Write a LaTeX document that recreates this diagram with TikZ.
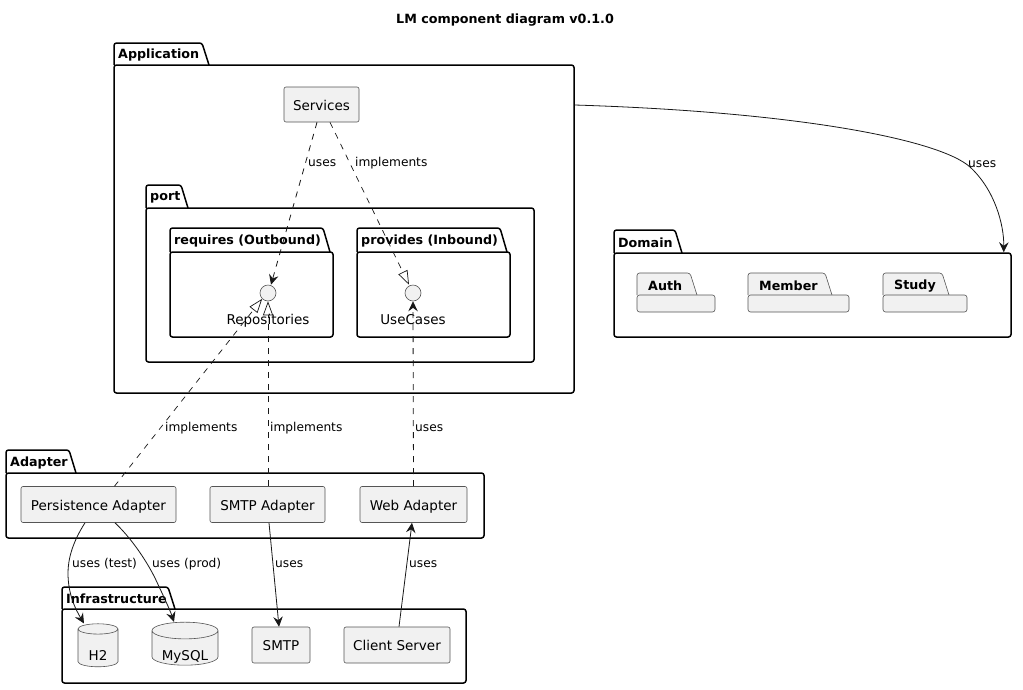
\documentclass[tikz,border=0pt]{standalone}
\usepackage{fontspec}
\setmainfont{DejaVu Sans}
\usepackage{xcolor}
\usetikzlibrary{arrows.meta, shapes.geometric}
\definecolor{boxfill}{HTML}{F1F1F1}
\definecolor{inkline}{HTML}{181818}
\definecolor{boxline}{HTML}{555555}
\tikzset{
  pkgbody/.style={rectangle, rounded corners=2.5pt, line width=1.5pt, draw=black, fill=white, inner sep=0pt},
  pkgtab/.style={rounded corners=2.5pt, line width=1.5pt, draw=black, fill=white},
  pkglabel/.style={font=\fontsize{12.7}{15}\bfseries\selectfont, anchor=west, inner sep=0pt, xshift=4pt, yshift=-1pt},
  subbody/.style={rectangle, rounded corners=2.5pt, line width=0.6pt, draw=boxline, fill=boxfill, inner sep=0pt},
  subtab/.style={rounded corners=2.5pt, line width=0.6pt, draw=boxline, fill=boxfill},
  sublabel/.style={font=\fontsize{12.7}{15}\bfseries\selectfont, anchor=west, inner sep=0pt, xshift=11pt, yshift=-2pt},
  comp/.style={rectangle, rounded corners=2pt, line width=0.6pt, draw=boxline, fill=boxfill, inner sep=0pt,
               font=\fontsize{13.5}{16}\selectfont, text height=11pt, text depth=0pt},
  iface/.style={circle, line width=0.6pt, draw=boxline, fill=boxfill, inner sep=0pt, minimum size=16pt},
  ifacelbl/.style={font=\fontsize{13.5}{16}\selectfont, inner sep=0pt, anchor=base},
  db/.style={cylinder, shape border rotate=90, line width=0.6pt, draw=boxline, fill=boxfill, inner sep=0pt,
             font=\fontsize{13.5}{16}\selectfont},
  edgelbl/.style={font=\fontsize{12.2}{15}\selectfont, anchor=west, inner sep=0pt, yshift=-1pt},
  uses/.style={-{Stealth[length=10pt, width=9.5pt, inset=3.5pt]}, line width=0.8pt, draw=inkline},
  usesd/.style={uses, dash pattern=on 6pt off 6pt},
  impl/.style={-{Triangle[open, length=14pt, width=10pt]}, line width=0.7pt, draw=inkline, dash pattern=on 6pt off 6pt},
}
% style, name, label, left, tab top, tab right, body top, right, bottom
\newcommand{\pkgnode}[9]{
  \draw[#1tab] (#4,#7) -- (#4,#5) -- (#6,#5) -- ({#6+7},#7);
  \node[#1body, minimum width={(#8-#4)*1pt}, minimum height={(#9-#7)*1pt}] (#2) at ({(#4+#8)/2},{(#7+#9)/2}) {};
  \node[#1label] (#2Lbl) at (#4,{(#5+#7)/2}) {#3};
}
\begin{document}
\begin{tikzpicture}[x=1pt, y=-1pt]
    \useasboundingbox (0,0) rectangle (1023,689);
    \node[font=\fontsize{12.7}{16}\bfseries\selectfont, inner sep=0pt] (title) at (505,20) {LM component diagram v0.1.0};

    \pkgnode{pkg}{application}{Application}{114}{43}{202}{65}{574}{393}
    \node[comp, minimum width=75pt, minimum height=35pt] (services) at (321.5,104.5) {Services};
    \pkgnode{pkg}{port}{port}{146}{185}{181}{208}{534}{362}
    \pkgnode{pkg}{requires}{requires (Outbound)}{170}{228}{323}{252}{333}{337}
    \pkgnode{pkg}{provides}{provides (Inbound)}{357}{228}{500}{252}{510}{337}
    \node[iface] (repositories) at (268,293) {};
    \node[iface] (usecases) at (413,293) {};
    \node[ifacelbl] (repositoriesLbl) at (268,324) {Repositories};
    \node[ifacelbl] (usecasesLbl) at (413,324) {UseCases};

    \pkgnode{pkg}{domain}{Domain}{614}{230}{675}{253}{1011}{337}
    \pkgnode{sub}{auth}{Auth}{637}{273}{690}{295}{715}{312}
    \pkgnode{sub}{member}{Member}{748}{273}{825}{295}{849}{312}
    \pkgnode{sub}{study}{Study}{883}{273}{942}{295}{967}{312}

    \pkgnode{pkg}{adapter}{Adapter}{6}{450}{69}{473}{484}{538}
    \node[comp, minimum width=155pt, minimum height=36pt] (persistence) at (98.5,504.5) {Persistence Adapter};
    \node[comp, minimum width=115pt, minimum height=36pt] (smtpadapter) at (267.5,504.5) {SMTP Adapter};
    \node[comp, minimum width=107pt, minimum height=36pt] (webadapter) at (413.5,504.5) {Web Adapter};

    \pkgnode{pkg}{infra}{Infrastructure}{62}{587}{168}{609}{466}{683}
    \node[db, aspect=0.55, minimum width=40pt, minimum height=43pt] (h2) at (98,648) {\raisebox{-12pt}[0pt][0pt]{H2}};
    \node[db, aspect=0.36, minimum width=66pt, minimum height=43pt] (mysql) at (185,648) {\raisebox{-12pt}[0pt][0pt]{MySQL}};
    \node[comp, minimum width=58pt, minimum height=36pt] (smtp) at (281,645) {SMTP};
    \node[comp, minimum width=106pt, minimum height=36pt] (client) at (397,645) {Client Server};

    \draw[usesd] ([xshift=-4.5pt]services.south) -- ([xshift=3pt]repositories.north);
    \draw[impl] ([xshift=8.5pt]services.south) -- ([xshift=-4pt]usecases.north);
    \draw[impl] ([xshift=16pt]persistence.north) -- (repositories.south west);
    \draw[impl] ([xshift=0.5pt]smtpadapter.north) -- (repositories.south);
    \draw[usesd] (webadapter.north) -- (usecases.south);
    \draw[uses] (application.east |- 0,105) .. controls (800,112) and (940,140) .. (970,167)
                .. controls (995,190) and (1004,225) .. ([xshift=-8pt]domain.north east);
    \draw[uses] ([xshift=-13.5pt]persistence.south) .. controls (72,543) and (68,560) .. (68,573)
                .. controls (68,595) and (76,610) .. ([xshift=-14pt]h2.north);
    \draw[uses] ([xshift=16.5pt]persistence.south) .. controls (130,537) and (145,558) .. (155,578)
                .. controls (163,595) and (170,610) .. ([xshift=-11pt]mysql.north);
    \draw[uses] ([xshift=1.5pt]smtpadapter.south) -- ([xshift=-2pt]smtp.north);
    \draw[uses] ([xshift=2pt]client.north) -- ([xshift=-1.5pt]webadapter.south);

    \node[edgelbl] (usesA) at (308,162) {uses};
    \node[edgelbl] (implA) at (355,162) {implements};
    \node[edgelbl] (usesB) at (968,163) {uses};
    \node[edgelbl] (implB) at (165,427) {implements};
    \node[edgelbl] (implC) at (270,427) {implements};
    \node[edgelbl] (usesC) at (415,427) {uses};
    \node[edgelbl] (usesD) at (72,563) {uses (test)};
    \node[edgelbl] (usesE) at (152,563) {uses (prod)};
    \node[edgelbl] (usesF) at (275,563) {uses};
    \node[edgelbl] (usesG) at (409,563) {uses};
\end{tikzpicture}
\end{document}
